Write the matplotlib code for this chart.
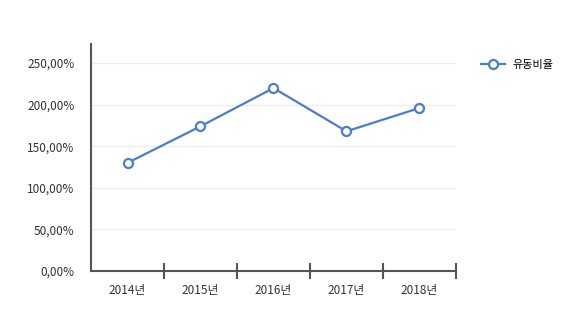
import matplotlib
matplotlib.use('Agg')
import matplotlib.pyplot as plt
from matplotlib.ticker import FuncFormatter

plt.rcParams['font.family'] = ['Noto Sans CJK KR', 'DejaVu Sans']

years = ['2014년', '2015년', '2016년', '2017년', '2018년']
ratio = [130, 174, 220, 168, 196]
yticks = [0, 50, 100, 150, 200, 250]
series_name = '유동비율'

LINE_COLOR = '#4a7dcc'
AXIS_COLOR = '#555555'

fig = plt.figure(figsize=(5.67, 3.12), dpi=100)
ax = fig.add_axes([0.1605, 0.1314, 0.6437, 0.7276])

x = list(range(len(years)))
ax.plot(x, ratio, color=LINE_COLOR, lw=1.6, marker='o', ms=6.5,
        mfc='white', mec=LINE_COLOR, mew=1.6, label=series_name, zorder=3)

ax.set_xlim(-0.5, len(years) - 0.5)
ax.set_ylim(0, 273)
ax.set_yticks(yticks)
ax.yaxis.set_major_formatter(FuncFormatter(lambda v, p: f'{v:.2f}'.replace('.', ',') + '%'))
ax.grid(axis='y', color='#ececec', lw=0.8)
ax.set_axisbelow(True)

# category labels centred, ticks at the boundaries
ax.set_xticks([i + 0.5 for i in x])
ax.set_xticklabels([])
ax.set_xticks(x, minor=True)
ax.set_xticklabels(years, minor=True)
ax.tick_params(axis='x', which='major', direction='inout', length=12, width=1.5, color=AXIS_COLOR)
ax.tick_params(axis='x', which='minor', length=0, pad=9, labelsize=8.5, labelcolor='#333333')
ax.tick_params(axis='y', length=0, pad=12, labelsize=8.5, labelcolor='#333333')

for s in ['top', 'right']:
    ax.spines[s].set_visible(False)
ax.spines['left'].set_color(AXIS_COLOR)
ax.spines['bottom'].set_color(AXIS_COLOR)
ax.spines['left'].set_linewidth(1.5)
ax.spines['bottom'].set_linewidth(1.5)

leg = ax.legend(loc='upper left', bbox_to_anchor=(1.04, 0.975), frameon=False,
                fontsize=8, handlelength=2.2, handletextpad=0.7)

fig.savefig('out.png', dpi=100)
